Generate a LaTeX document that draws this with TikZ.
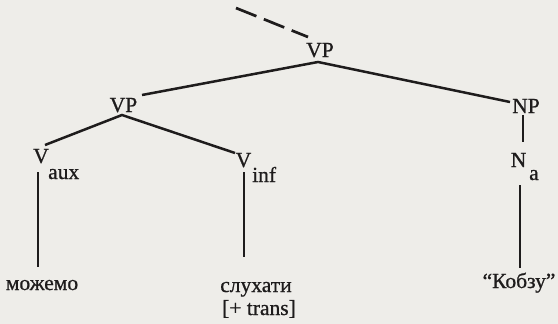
\documentclass[tikz,border=0pt]{standalone}
\usepackage{fontspec}
\newfontfamily\treefont{Liberation Serif}[FakeBold=0.8]
\definecolor{paper}{RGB}{238,237,233}
\definecolor{ink}{RGB}{30,28,28}
\begin{document}
\begin{tikzpicture}[x=1pt,y=-1pt,
  lbl/.style={inner sep=0pt,anchor=base,text=ink,font=\treefont\fontsize{21.5}{26}\selectfont},
  sub/.style={lbl,anchor=base west},
  branch/.style={draw=ink,line width=2.5pt},
  trunk/.style={draw=ink,line width=2.7pt,dash pattern=on 22pt off 8pt}]
\fill[paper] (0,0) rectangle (558,324);
\useasboundingbox (0,0) rectangle (558,324);

% category labels
\node[lbl] (vptop) at (320,57) {VP};
\node[lbl] (vpl) at (123.5,112) {VP};
\node[lbl] (np) at (526,113) {NP};
\node[lbl] (vaux) at (41,163) {V};
\node[sub] (aux) at (48,179) {aux};
\node[lbl] (vinf) at (243.5,167) {V};
\node[sub] (inf) at (252,182) {inf};
\node[lbl] (na) at (518.5,167) {N};
\node[sub] (a) at (529,180) {a};

% words
\node[lbl] (mozhemo) at (42,290) {можемо};
\node[lbl] (sluhaty) at (256,292) {слухати};
\node[lbl] (trans) at (259,315) {[+ trans]};
\node[lbl] (kobzu) at (519,288) {“Кобзу”};

% branch end points
\coordinate (up) at (236,8);
\coordinate (vptopn) at (308,37);
\coordinate (vptops) at (318,62);
\coordinate (vpln) at (142,95);
\coordinate (vpls) at (122,115);
\coordinate (npn) at (510,102);
\coordinate (nps) at (523,115);
\coordinate (nan) at (523,142);
\coordinate (nas) at (520,185);
\coordinate (nab) at (520,268);
\coordinate (vauxn) at (45,145);
\coordinate (vauxs) at (38,172);
\coordinate (vauxb) at (38,267);
\coordinate (vinfn) at (235,153);
\coordinate (vinfs) at (244,172);
\coordinate (vinfb) at (244,257);

% tree
\draw[trunk] (up) -- (vptopn);
\draw[branch] (vpln) -- (vptops) -- (npn);
\draw[branch] (vauxn) -- (vpls) -- (vinfn);
\draw[branch] (nps) -- (nan);
\draw[branch] (nas) -- (nab);
\draw[branch] (vauxs) -- (vauxb);
\draw[branch] (vinfs) -- (vinfb);
\end{tikzpicture}
\end{document}
